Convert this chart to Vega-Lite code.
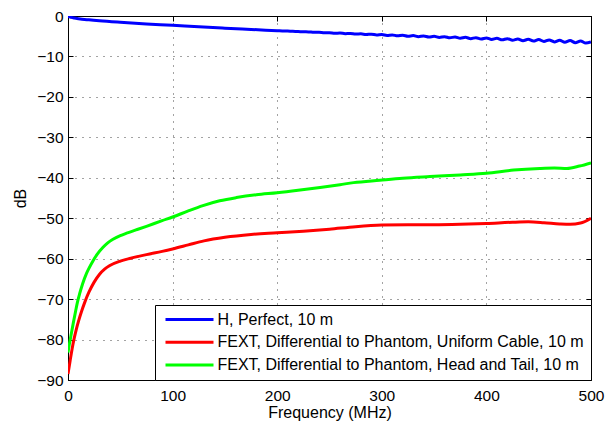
{
  "$schema": "https://vega.github.io/schema/vega-lite/v6.json",
  "width": 523,
  "height": 364,
  "autosize": {"type": "none"},
  "padding": {"left": 68, "top": 16, "right": 23, "bottom": 43},
  "background": "white",
  "config": {
    "font": "Liberation Sans",
    "view": {"stroke": "black", "strokeWidth": 1},
    "axis": {
      "labelFont": "Liberation Sans", "labelFontSize": 15.5, "labelColor": "black", "labelFlush": false,
      "titleFont": "Liberation Sans", "titleFontSize": 16, "titleFontWeight": "normal", "titleColor": "black",
      "domainColor": "black", "tickColor": "black", "tickSize": -5,
      "gridColor": "#333", "gridDash": [1, 6], "gridOpacity": 0.9
    },
    "legend": {
      "orient": "bottom-right", "offset": 0, "title": null,
      "strokeColor": "black", "fillColor": "white", "padding": 6.5,
      "labelFont": "Liberation Sans", "labelFontSize": 16, "labelColor": "black", "labelLimit": 1000,
      "symbolType": "M-0.667,0H7.333", "symbolSize": 144, "symbolStrokeWidth": 3,
      "rowPadding": 6.7, "labelOffset": 40
    }
  },
  "data": {"values": [
    {"s": "H, Perfect, 10 m", "f": 0, "v": 0},
    {"s": "H, Perfect, 10 m", "f": 1, "v": -0.2},
    {"s": "H, Perfect, 10 m", "f": 3, "v": -0.35},
    {"s": "H, Perfect, 10 m", "f": 6, "v": -0.51},
    {"s": "H, Perfect, 10 m", "f": 10, "v": -0.67},
    {"s": "H, Perfect, 10 m", "f": 20, "v": -0.95},
    {"s": "H, Perfect, 10 m", "f": 30, "v": -1.18},
    {"s": "H, Perfect, 10 m", "f": 50, "v": -1.55},
    {"s": "H, Perfect, 10 m", "f": 75, "v": -1.95},
    {"s": "H, Perfect, 10 m", "f": 100, "v": -2.3},
    {"s": "H, Perfect, 10 m", "f": 125, "v": -2.68},
    {"s": "H, Perfect, 10 m", "f": 150, "v": -3.02},
    {"s": "H, Perfect, 10 m", "f": 175, "v": -3.33},
    {"s": "H, Perfect, 10 m", "f": 200, "v": -3.63},
    {"s": "H, Perfect, 10 m", "f": 205, "v": -3.69},
    {"s": "H, Perfect, 10 m", "f": 210, "v": -3.73},
    {"s": "H, Perfect, 10 m", "f": 215, "v": -3.80},
    {"s": "H, Perfect, 10 m", "f": 220, "v": -3.83},
    {"s": "H, Perfect, 10 m", "f": 225, "v": -3.92},
    {"s": "H, Perfect, 10 m", "f": 230, "v": -3.93},
    {"s": "H, Perfect, 10 m", "f": 235, "v": -4.03},
    {"s": "H, Perfect, 10 m", "f": 240, "v": -4.03},
    {"s": "H, Perfect, 10 m", "f": 245, "v": -4.14},
    {"s": "H, Perfect, 10 m", "f": 250, "v": -4.12},
    {"s": "H, Perfect, 10 m", "f": 255, "v": -4.25},
    {"s": "H, Perfect, 10 m", "f": 260, "v": -4.22},
    {"s": "H, Perfect, 10 m", "f": 265, "v": -4.36},
    {"s": "H, Perfect, 10 m", "f": 270, "v": -4.31},
    {"s": "H, Perfect, 10 m", "f": 275, "v": -4.47},
    {"s": "H, Perfect, 10 m", "f": 280, "v": -4.41},
    {"s": "H, Perfect, 10 m", "f": 285, "v": -4.58},
    {"s": "H, Perfect, 10 m", "f": 290, "v": -4.50},
    {"s": "H, Perfect, 10 m", "f": 295, "v": -4.69},
    {"s": "H, Perfect, 10 m", "f": 300, "v": -4.58},
    {"s": "H, Perfect, 10 m", "f": 305, "v": -4.80},
    {"s": "H, Perfect, 10 m", "f": 310, "v": -4.67},
    {"s": "H, Perfect, 10 m", "f": 315, "v": -4.90},
    {"s": "H, Perfect, 10 m", "f": 320, "v": -4.76},
    {"s": "H, Perfect, 10 m", "f": 325, "v": -5.00},
    {"s": "H, Perfect, 10 m", "f": 330, "v": -4.85},
    {"s": "H, Perfect, 10 m", "f": 335, "v": -5.10},
    {"s": "H, Perfect, 10 m", "f": 340, "v": -4.94},
    {"s": "H, Perfect, 10 m", "f": 345, "v": -5.20},
    {"s": "H, Perfect, 10 m", "f": 350, "v": -5.02},
    {"s": "H, Perfect, 10 m", "f": 355, "v": -5.30},
    {"s": "H, Perfect, 10 m", "f": 360, "v": -5.11},
    {"s": "H, Perfect, 10 m", "f": 365, "v": -5.40},
    {"s": "H, Perfect, 10 m", "f": 370, "v": -5.19},
    {"s": "H, Perfect, 10 m", "f": 375, "v": -5.50},
    {"s": "H, Perfect, 10 m", "f": 380, "v": -5.28},
    {"s": "H, Perfect, 10 m", "f": 385, "v": -5.60},
    {"s": "H, Perfect, 10 m", "f": 390, "v": -5.36},
    {"s": "H, Perfect, 10 m", "f": 395, "v": -5.70},
    {"s": "H, Perfect, 10 m", "f": 400, "v": -5.44},
    {"s": "H, Perfect, 10 m", "f": 405, "v": -5.80},
    {"s": "H, Perfect, 10 m", "f": 410, "v": -5.52},
    {"s": "H, Perfect, 10 m", "f": 415, "v": -5.90},
    {"s": "H, Perfect, 10 m", "f": 420, "v": -5.60},
    {"s": "H, Perfect, 10 m", "f": 425, "v": -6.00},
    {"s": "H, Perfect, 10 m", "f": 430, "v": -5.68},
    {"s": "H, Perfect, 10 m", "f": 435, "v": -6.10},
    {"s": "H, Perfect, 10 m", "f": 440, "v": -5.76},
    {"s": "H, Perfect, 10 m", "f": 445, "v": -6.20},
    {"s": "H, Perfect, 10 m", "f": 450, "v": -5.84},
    {"s": "H, Perfect, 10 m", "f": 455, "v": -6.30},
    {"s": "H, Perfect, 10 m", "f": 460, "v": -5.92},
    {"s": "H, Perfect, 10 m", "f": 465, "v": -6.40},
    {"s": "H, Perfect, 10 m", "f": 470, "v": -6.00},
    {"s": "H, Perfect, 10 m", "f": 475, "v": -6.49},
    {"s": "H, Perfect, 10 m", "f": 480, "v": -6.08},
    {"s": "H, Perfect, 10 m", "f": 485, "v": -6.59},
    {"s": "H, Perfect, 10 m", "f": 490, "v": -6.16},
    {"s": "H, Perfect, 10 m", "f": 495, "v": -6.68},
    {"s": "H, Perfect, 10 m", "f": 500, "v": -6.40},

    {"s": "FEXT, Differential to Phantom, Uniform Cable, 10 m", "f": 0, "v": -88.5},
    {"s": "FEXT, Differential to Phantom, Uniform Cable, 10 m", "f": 2, "v": -85.3},
    {"s": "FEXT, Differential to Phantom, Uniform Cable, 10 m", "f": 4, "v": -82.2},
    {"s": "FEXT, Differential to Phantom, Uniform Cable, 10 m", "f": 6, "v": -79.6},
    {"s": "FEXT, Differential to Phantom, Uniform Cable, 10 m", "f": 8, "v": -77.4},
    {"s": "FEXT, Differential to Phantom, Uniform Cable, 10 m", "f": 10, "v": -75.5},
    {"s": "FEXT, Differential to Phantom, Uniform Cable, 10 m", "f": 13, "v": -73.0},
    {"s": "FEXT, Differential to Phantom, Uniform Cable, 10 m", "f": 16, "v": -70.8},
    {"s": "FEXT, Differential to Phantom, Uniform Cable, 10 m", "f": 20, "v": -68.3},
    {"s": "FEXT, Differential to Phantom, Uniform Cable, 10 m", "f": 25, "v": -65.8},
    {"s": "FEXT, Differential to Phantom, Uniform Cable, 10 m", "f": 30, "v": -63.9},
    {"s": "FEXT, Differential to Phantom, Uniform Cable, 10 m", "f": 35, "v": -62.6},
    {"s": "FEXT, Differential to Phantom, Uniform Cable, 10 m", "f": 40, "v": -61.7},
    {"s": "FEXT, Differential to Phantom, Uniform Cable, 10 m", "f": 50, "v": -60.6},
    {"s": "FEXT, Differential to Phantom, Uniform Cable, 10 m", "f": 60, "v": -59.9},
    {"s": "FEXT, Differential to Phantom, Uniform Cable, 10 m", "f": 75, "v": -59.0},
    {"s": "FEXT, Differential to Phantom, Uniform Cable, 10 m", "f": 90, "v": -58.2},
    {"s": "FEXT, Differential to Phantom, Uniform Cable, 10 m", "f": 100, "v": -57.6},
    {"s": "FEXT, Differential to Phantom, Uniform Cable, 10 m", "f": 115, "v": -56.6},
    {"s": "FEXT, Differential to Phantom, Uniform Cable, 10 m", "f": 130, "v": -55.6},
    {"s": "FEXT, Differential to Phantom, Uniform Cable, 10 m", "f": 150, "v": -54.7},
    {"s": "FEXT, Differential to Phantom, Uniform Cable, 10 m", "f": 175, "v": -54.0},
    {"s": "FEXT, Differential to Phantom, Uniform Cable, 10 m", "f": 200, "v": -53.6},
    {"s": "FEXT, Differential to Phantom, Uniform Cable, 10 m", "f": 225, "v": -53.2},
    {"s": "FEXT, Differential to Phantom, Uniform Cable, 10 m", "f": 250, "v": -52.7},
    {"s": "FEXT, Differential to Phantom, Uniform Cable, 10 m", "f": 275, "v": -52.1},
    {"s": "FEXT, Differential to Phantom, Uniform Cable, 10 m", "f": 300, "v": -51.7},
    {"s": "FEXT, Differential to Phantom, Uniform Cable, 10 m", "f": 325, "v": -51.6},
    {"s": "FEXT, Differential to Phantom, Uniform Cable, 10 m", "f": 350, "v": -51.6},
    {"s": "FEXT, Differential to Phantom, Uniform Cable, 10 m", "f": 375, "v": -51.5},
    {"s": "FEXT, Differential to Phantom, Uniform Cable, 10 m", "f": 400, "v": -51.3},
    {"s": "FEXT, Differential to Phantom, Uniform Cable, 10 m", "f": 425, "v": -51.0},
    {"s": "FEXT, Differential to Phantom, Uniform Cable, 10 m", "f": 440, "v": -50.9},
    {"s": "FEXT, Differential to Phantom, Uniform Cable, 10 m", "f": 455, "v": -51.1},
    {"s": "FEXT, Differential to Phantom, Uniform Cable, 10 m", "f": 470, "v": -51.4},
    {"s": "FEXT, Differential to Phantom, Uniform Cable, 10 m", "f": 480, "v": -51.5},
    {"s": "FEXT, Differential to Phantom, Uniform Cable, 10 m", "f": 490, "v": -51.2},
    {"s": "FEXT, Differential to Phantom, Uniform Cable, 10 m", "f": 500, "v": -50.0},

    {"s": "FEXT, Differential to Phantom, Head and Tail, 10 m", "f": 0, "v": -83.2},
    {"s": "FEXT, Differential to Phantom, Head and Tail, 10 m", "f": 1, "v": -81.6},
    {"s": "FEXT, Differential to Phantom, Head and Tail, 10 m", "f": 2, "v": -80.2},
    {"s": "FEXT, Differential to Phantom, Head and Tail, 10 m", "f": 3.2, "v": -78.5},
    {"s": "FEXT, Differential to Phantom, Head and Tail, 10 m", "f": 5, "v": -76.0},
    {"s": "FEXT, Differential to Phantom, Head and Tail, 10 m", "f": 7.4, "v": -72.8},
    {"s": "FEXT, Differential to Phantom, Head and Tail, 10 m", "f": 9, "v": -70.8},
    {"s": "FEXT, Differential to Phantom, Head and Tail, 10 m", "f": 11.2, "v": -68.6},
    {"s": "FEXT, Differential to Phantom, Head and Tail, 10 m", "f": 14, "v": -66.2},
    {"s": "FEXT, Differential to Phantom, Head and Tail, 10 m", "f": 17.6, "v": -63.7},
    {"s": "FEXT, Differential to Phantom, Head and Tail, 10 m", "f": 20, "v": -62.4},
    {"s": "FEXT, Differential to Phantom, Head and Tail, 10 m", "f": 24, "v": -60.5},
    {"s": "FEXT, Differential to Phantom, Head and Tail, 10 m", "f": 28, "v": -58.9},
    {"s": "FEXT, Differential to Phantom, Head and Tail, 10 m", "f": 33.5, "v": -57.2},
    {"s": "FEXT, Differential to Phantom, Head and Tail, 10 m", "f": 38, "v": -56.1},
    {"s": "FEXT, Differential to Phantom, Head and Tail, 10 m", "f": 43, "v": -55.2},
    {"s": "FEXT, Differential to Phantom, Head and Tail, 10 m", "f": 50, "v": -54.3},
    {"s": "FEXT, Differential to Phantom, Head and Tail, 10 m", "f": 56, "v": -53.7},
    {"s": "FEXT, Differential to Phantom, Head and Tail, 10 m", "f": 65, "v": -52.9},
    {"s": "FEXT, Differential to Phantom, Head and Tail, 10 m", "f": 75, "v": -52.0},
    {"s": "FEXT, Differential to Phantom, Head and Tail, 10 m", "f": 90, "v": -50.6},
    {"s": "FEXT, Differential to Phantom, Head and Tail, 10 m", "f": 100, "v": -49.7},
    {"s": "FEXT, Differential to Phantom, Head and Tail, 10 m", "f": 115, "v": -48.2},
    {"s": "FEXT, Differential to Phantom, Head and Tail, 10 m", "f": 129, "v": -46.9},
    {"s": "FEXT, Differential to Phantom, Head and Tail, 10 m", "f": 145, "v": -45.7},
    {"s": "FEXT, Differential to Phantom, Head and Tail, 10 m", "f": 161, "v": -44.9},
    {"s": "FEXT, Differential to Phantom, Head and Tail, 10 m", "f": 180, "v": -44.2},
    {"s": "FEXT, Differential to Phantom, Head and Tail, 10 m", "f": 200, "v": -43.7},
    {"s": "FEXT, Differential to Phantom, Head and Tail, 10 m", "f": 220, "v": -43.1},
    {"s": "FEXT, Differential to Phantom, Head and Tail, 10 m", "f": 241, "v": -42.4},
    {"s": "FEXT, Differential to Phantom, Head and Tail, 10 m", "f": 260, "v": -41.7},
    {"s": "FEXT, Differential to Phantom, Head and Tail, 10 m", "f": 273, "v": -41.2},
    {"s": "FEXT, Differential to Phantom, Head and Tail, 10 m", "f": 298, "v": -40.6},
    {"s": "FEXT, Differential to Phantom, Head and Tail, 10 m", "f": 320, "v": -40.1},
    {"s": "FEXT, Differential to Phantom, Head and Tail, 10 m", "f": 346, "v": -39.7},
    {"s": "FEXT, Differential to Phantom, Head and Tail, 10 m", "f": 375, "v": -39.3},
    {"s": "FEXT, Differential to Phantom, Head and Tail, 10 m", "f": 400, "v": -38.9},
    {"s": "FEXT, Differential to Phantom, Head and Tail, 10 m", "f": 426, "v": -38.1},
    {"s": "FEXT, Differential to Phantom, Head and Tail, 10 m", "f": 451, "v": -37.7},
    {"s": "FEXT, Differential to Phantom, Head and Tail, 10 m", "f": 465, "v": -37.6},
    {"s": "FEXT, Differential to Phantom, Head and Tail, 10 m", "f": 477, "v": -37.7},
    {"s": "FEXT, Differential to Phantom, Head and Tail, 10 m", "f": 489, "v": -37.1},
    {"s": "FEXT, Differential to Phantom, Head and Tail, 10 m", "f": 500, "v": -36.3}
  ]},
  "layer": [
    {
      "mark": {"type": "line", "strokeWidth": 3, "interpolate": "monotone", "clip": true},
      "encoding": {
        "x": {"field": "f", "type": "quantitative",
              "scale": {"domain": [0, 500], "nice": false},
              "axis": {"orient": "bottom", "values": [0, 100, 200, 300, 400, 500], "title": "Frequency (MHz)", "labelPadding": 13, "titlePadding": 1, "grid": true}},
        "y": {"field": "v", "type": "quantitative",
              "scale": {"domain": [-90, 0], "nice": false},
              "axis": {"orient": "left", "values": [-90, -80, -70, -60, -50, -40, -30, -20, -10, 0], "title": "dB", "labelPadding": 10, "titlePadding": 8, "grid": true}},
        "color": {"field": "s", "type": "nominal",
                  "scale": {"domain": ["H, Perfect, 10 m", "FEXT, Differential to Phantom, Uniform Cable, 10 m", "FEXT, Differential to Phantom, Head and Tail, 10 m"],
                            "range": ["#0000ff", "#ff0000", "#00ff00"]},
                  "legend": {}}
      }
    },
    {
      "mark": {"type": "point", "opacity": 0},
      "encoding": {
        "x": {"field": "f", "type": "quantitative",
              "axis": {"orient": "top", "values": [0, 100, 200, 300, 400, 500], "labels": false, "title": null, "grid": false}},
        "y": {"field": "v", "type": "quantitative",
              "axis": {"orient": "right", "values": [-90, -80, -70, -60, -50, -40, -30, -20, -10, 0], "labels": false, "title": null, "grid": false}}
      }
    }
  ],
  "resolve": {"axis": {"x": "independent", "y": "independent"}}
}
